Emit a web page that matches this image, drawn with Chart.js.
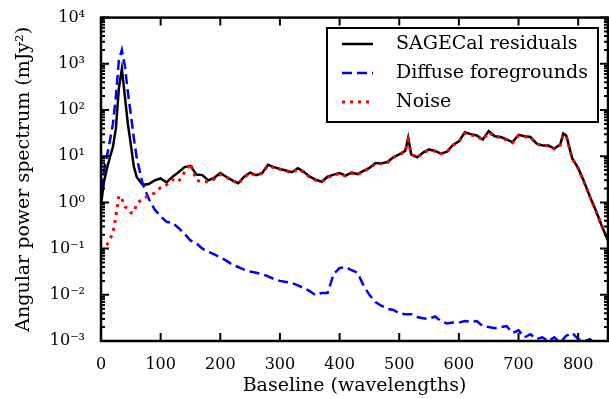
<!DOCTYPE html>
<html>
<head>
<meta charset="utf-8">
<script src="https://cdn.jsdelivr.net/npm/chart.js@4/dist/chart.umd.min.js"></script>
<style>
  html, body { margin: 0; padding: 0; background: #fff; }
  canvas { display: block; }
</style>
</head>
<body>
<canvas id="myChart" width="609" height="399"></canvas>
<script>
const ctx = document.getElementById('myChart');

// baseline in wavelengths (shared by all three curves)
const baseline = [0, 5, 10, 15, 20, 25, 30, 35, 40, 45, 50, 55, 60,
  70, 80, 90, 100, 110, 120, 130, 140, 150, 160, 170, 180, 190, 200,
  210, 220, 230, 240, 250, 260, 270, 280, 290, 300, 310, 320, 330, 340,
  350, 360, 370, 380, 390, 400, 410, 420, 430, 440, 450, 460, 470, 480,
  490, 500, 510, 515, 520, 530, 540, 550, 560, 570, 580, 590, 600, 610,
  620, 630, 640, 650, 660, 670, 680, 690, 700, 710, 720, 730, 740, 750,
  760, 770, 775, 780, 790, 800, 810, 820, 830, 840, 850];

const residuals = [0.9, 2.8, 5.5, 9.5, 16, 40, 300, 780, 200, 50, 18, 6, 3.5,
  2.4, 2.5, 3.0, 3.3, 2.7, 3.6, 4.5, 5.8, 6.2, 4.0, 3.9, 3.0, 3.4, 4.3,
  3.6, 3.0, 2.6, 3.6, 4.4, 3.9, 4.3, 6.5, 5.8, 5.3, 4.9, 4.5, 5.5, 4.6,
  3.6, 3.1, 2.8, 3.6, 4.0, 4.3, 3.8, 4.4, 4.1, 4.8, 5.6, 7.0, 7.0, 7.5,
  9.5, 11, 13, 25, 11, 9.5, 12, 14, 13, 11.4, 12.5, 17.5, 21, 33,
  30, 28, 23, 35, 27, 26, 23, 20, 29, 27, 26, 19, 17, 17,
  14.6, 18, 31, 28, 9, 5.5, 2.8, 1.3, 0.65, 0.3, 0.15];

const foregrounds = [2, 5, 10, 22, 50, 200, 1200, 2000, 900, 250, 80, 25, 9,
  2.5, 1.2, 0.7, 0.5, 0.38, 0.36, 0.28, 0.21, 0.15, 0.13, 0.1, 0.085, 0.075, 0.065,
  0.055, 0.045, 0.04, 0.035, 0.032, 0.03, 0.028, 0.025, 0.022, 0.02, 0.019, 0.018, 0.016, 0.014,
  0.012, 0.0098, 0.011, 0.011, 0.028, 0.038, 0.04, 0.034, 0.03, 0.016, 0.01, 0.007, 0.0058, 0.005,
  0.0047, 0.004, 0.0038, 0.0038, 0.0038, 0.0033, 0.0031, 0.003, 0.0034, 0.0027, 0.0024, 0.0025, 0.0025, 0.0027,
  0.0026, 0.0027, 0.0021, 0.002, 0.0019, 0.002, 0.0021, 0.0015, 0.0017, 0.0012, 0.0014, 0.0011, 0.0012, 0.001,
  0.0012, 0.0009, 0.0011, 0.0013, 0.0015, 0.0011, 0.001, 0.0011, 0.0008, 0.0009, 0.0008];

const noise = [0.09, 0.1, 0.12, 0.16, 0.22, 0.5, 1.4, 1.2, 0.8, 0.75, 0.6, 0.6, 0.95,
  1.2, 1.4, 1.6, 2.1, 2.4, 3.1, 2.8, 4.5, 7.0, 3.0, 2.8, 2.8, 3.2, 4.0,
  3.5, 3.0, 2.5, 3.5, 4.3, 3.8, 4.3, 6.3, 5.6, 5.2, 4.8, 4.4, 5.3, 4.5,
  3.5, 3.0, 2.8, 3.5, 3.9, 4.2, 3.7, 4.3, 4.0, 4.7, 5.5, 6.8, 6.9, 7.3,
  9.3, 10.8, 12.5, 22, 11, 9.3, 11.8, 13.8, 12.8, 11.2, 12.3, 17, 20.5, 31,
  29, 27, 22.5, 33, 26.5, 25.5, 22.5, 19.5, 28, 26.5, 25.5, 18.5, 16.8, 16.8,
  14.3, 17.5, 29, 27, 8.8, 5.4, 2.7, 1.3, 0.63, 0.3, 0.15];

const xTicks = [0, 100, 200, 300, 400, 500, 600, 700, 800];
const yTicks = [1e-3, 1e-2, 1e-1, 1e0, 1e1, 1e2, 1e3, 1e4];

const FONT = '"DejaVu Serif", serif';
const sup = { '-': '\u207B', '0': '\u2070', '1': '\u00B9', '2': '\u00B2', '3': '\u00B3', '4': '\u2074' };
const pow10 = v => '10' + String(Math.round(Math.log10(v))).split('').map(c => sup[c]).join('');

const pts = ys => baseline.map((b, i) => ({ x: b, y: ys[i] }));

const data = {
  datasets: [{
    label: 'SAGECal residuals',
    data: pts(residuals),
    borderColor: '#000000',
    borderWidth: 2.5,
    order: 3
  },
  {
    label: 'Diffuse foregrounds',
    data: pts(foregrounds),
    borderColor: '#0000ff',
    borderWidth: 2.5,
    borderDash: [10, 5],
    order: 2
  },
  {
    label: 'Noise',
    data: pts(noise),
    borderColor: '#ff0000',
    borderWidth: 3,
    borderDash: [3, 5],
    order: 1
  }]
};

// frame, inward ticks and boxed legend, matplotlib style
const frame = {
  id: 'frame',
  afterDatasetsDraw(chart) {
    const { ctx, chartArea: a, scales: { x, y } } = chart;
    ctx.save();
    ctx.strokeStyle = '#000';
    ctx.lineWidth = 2;
    ctx.beginPath();
    xTicks.forEach(v => {
      const px = x.getPixelForValue(v);
      ctx.moveTo(px, a.bottom); ctx.lineTo(px, a.bottom - 8);
      ctx.moveTo(px, a.top); ctx.lineTo(px, a.top + 8);
    });
    for (let e = -3; e <= 4; e++) {
      for (let m = 1; m < 10; m++) {
        const v = m * Math.pow(10, e);
        if (v > 1e4 * 1.001) break;
        const py = y.getPixelForValue(v);
        const len = m === 1 ? 8 : 4;
        ctx.moveTo(a.left, py); ctx.lineTo(a.left + len, py);
        ctx.moveTo(a.right, py); ctx.lineTo(a.right - len, py);
      }
    }
    ctx.stroke();
    ctx.lineWidth = 2.5;
    ctx.strokeRect(a.left, a.top, a.right - a.left, a.bottom - a.top);

    // legend
    const bx = 327, by = 28, bw = 271, bh = 94;
    ctx.fillStyle = '#fff';
    ctx.fillRect(bx, by, bw, bh);
    ctx.lineWidth = 2;
    ctx.strokeRect(bx, by, bw, bh);
    chart.data.datasets.forEach((ds, i) => {
      const ry = 44 + i * 29;
      ctx.beginPath();
      ctx.strokeStyle = ds.borderColor;
      ctx.lineWidth = ds.borderWidth;
      ctx.setLineDash(ds.borderDash || []);
      ctx.moveTo(342, ry); ctx.lineTo(373, ry);
      ctx.stroke();
      ctx.setLineDash([]);
      ctx.fillStyle = '#000';
      ctx.font = '19px ' + FONT;
      ctx.textBaseline = 'middle';
      ctx.fillText(ds.label, 396, ry);
    });
    ctx.restore();
  }
};

const config = {
  type: 'line',
  data: data,
  options: {
    responsive: false,
    animation: false,
    devicePixelRatio: 1,
    layout: { padding: { left: 0, right: 1, top: 17, bottom: 0 } },
    elements: { point: { radius: 0 }, line: { tension: 0 } },
    plugins: { legend: { display: false }, tooltip: { enabled: false } },
    scales: {
      x: {
        type: 'linear',
        min: 0,
        max: 850,
        grid: { display: false },
        border: { display: false },
        afterFit: s => { s.height = 58; },
        afterBuildTicks: s => { s.ticks = xTicks.map(v => ({ value: v })); },
        ticks: { color: '#000', padding: 6, maxRotation: 0, font: { family: FONT, size: 16 } },
        title: {
          display: true, text: 'Baseline (wavelengths)', color: '#000',
          font: { family: FONT, size: 19 }, padding: { top: 0, bottom: 2 }
        }
      },
      y: {
        type: 'logarithmic',
        min: 1e-3,
        max: 1e4,
        grid: { display: false },
        border: { display: false },
        afterFit: s => { s.width = 101; },
        afterBuildTicks: s => { s.ticks = yTicks.map(v => ({ value: v })); },
        ticks: { color: '#000', padding: 8, callback: v => pow10(v), font: { family: FONT, size: 16 } },
        title: {
          display: true, text: 'Angular power spectrum (mJy\u00B2)', color: '#000',
          font: { family: FONT, size: 19 }, padding: { top: 13, bottom: 0 }
        }
      }
    }
  },
  plugins: [frame]
};

new Chart(ctx, config);
</script>
</body>
</html>
